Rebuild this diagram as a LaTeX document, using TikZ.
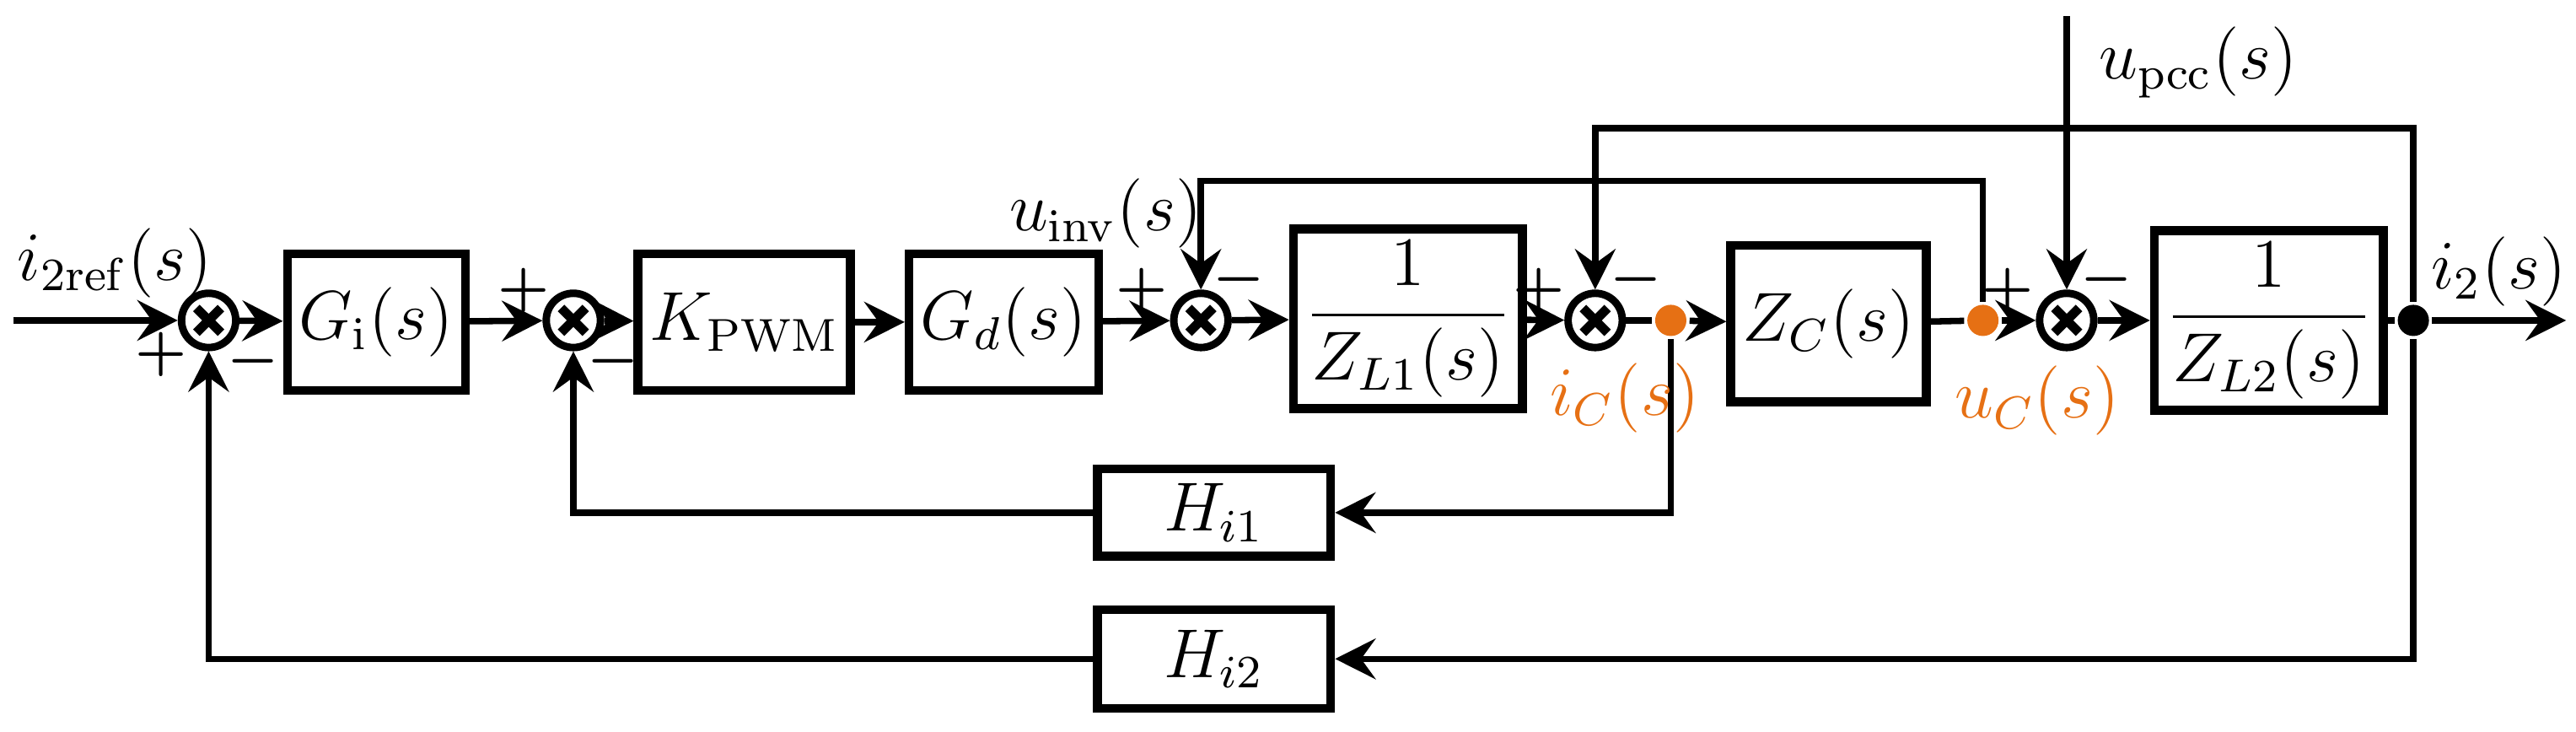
\documentclass[tikz,border=0pt]{standalone}
\usepackage{amsmath}
\usepackage{tikz}
\usetikzlibrary{arrows.meta}
\definecolor{sigorange}{RGB}{230,112,20}
\begin{document}
\begin{tikzpicture}[
x = 0.01cm, y = -0.01cm,
> = {Stealth[length=7pt,width=7pt,inset=2.5pt]}, % arrow head style
line width = 1.1pt,
font = \fontsize{12}{14}\selectfont
]

\tikzset{
block/.style = {draw, line width=1.5pt, minimum height=0.83cm, inner sep=2pt},
sum/.style = {draw, circle, line width=1.3pt, minimum size=0.33cm, inner sep=0pt,
  path picture={\draw[line width=1.6pt] (path picture bounding box.center) +(-0.075cm,-0.075cm) -- +(0.075cm,0.075cm)
    (path picture bounding box.center) +(-0.075cm,0.075cm) -- +(0.075cm,-0.075cm);}},
dot/.style = {circle, fill, inner sep=0pt, minimum size=0.19cm},
sign/.style = {font=\fontsize{10}{11}\selectfont, inner sep=0pt}
}

\useasboundingbox (0,0) rectangle (1568,445);

% forward path
\coordinate (in) at (8,195);
\node[sum] (s1) at (127,195) {};
\node[block, minimum width=0.98cm] (gi) at (229,196) {$G_{\mathrm{i}}(s)$};
\node[sum] (s2) at (349,195) {};
\node[block, minimum width=1.07cm] (kpwm) at (453,196) {$K_{\mathrm{PWM}}$};
\node[block, minimum width=1.0cm] (gd) at (611,196) {$G_d(s)$};
\node[sum] (s3) at (731,195) {};
\node[block, minimum width=1.38cm, minimum height=0.92cm] (zl1) at (857,194) {$\dfrac{1}{Z_{L1}(s)}$};
\node[sum] (s4) at (971,195) {};
\node[dot, fill=sigorange] (ic) at (1017,195) {};
\node[block, minimum width=1.18cm, minimum height=0.95cm] (zc) at (1113,197) {$Z_C(s)$};
\node[dot, fill=sigorange] (uc) at (1207,195) {};
\node[sum] (s5) at (1258,195) {};
\node[block, minimum width=1.31cm, minimum height=1.0cm] (zl2) at (1381,195) {$\dfrac{1}{Z_{L2}(s)}$};
\node[dot] (j) at (1469,195) {};
\coordinate (out) at (1562,195);
\coordinate (pcc) at (1258,10);

% feedback blocks
\node[block, minimum width=1.42cm, minimum height=0.53cm] (hi1) at (739,312) {$H_{i1}$};
\node[block, minimum width=1.42cm, minimum height=0.6cm] (hi2) at (739,401) {$H_{i2}$};

% connections
\draw[->] (in) -- (s1);
\draw[->] (s1) -- (gi);
\draw[->] (gi) -- (s2);
\draw[->] (s2) -- (kpwm);
\draw[->] (kpwm) -- (gd);
\draw[->] (gd) -- (s3);
\draw[->] (s3) -- (zl1);
\draw[->] (zl1) -- (s4);
\draw (s4) -- (ic);
\draw[->] (ic) -- (zc);
\draw (zc) -- (uc);
\draw[->] (uc) -- (s5);
\draw[->] (s5) -- (zl2);
\draw (zl2) -- (j);
\draw[->] (j) -- (out);

\draw[->] (ic) |- (hi1);
\draw[->] (hi1) -| (s2);
\draw[->] (j) |- (hi2);
\draw[->] (hi2) -| (s1);
\draw[->] (uc) |- (731,110) -- (s3);
\draw[->] (j) |- (971,78) -- (s4);
\draw[->] (pcc) -- (s5);

% labels
\node at (70,160) {$i_{2\mathrm{ref}}(s)$};
\node at (673,130) {$u_{\mathrm{inv}}(s)$};
\node[anchor=west] at (1264,38) {$u_{\mathrm{pcc}}(s)$};
\node at (1521,165) {$i_2(s)$};
\node[text=sigorange] at (989,242) {$i_C(s)$};
\node[text=sigorange] at (1240,244) {$u_C(s)$};

% signs
\node[sign] at (98,216) {$\boldsymbol{+}$};
\node[sign] at (154,220) {$\boldsymbol{-}$};
\node[sign] at (319,177) {$\boldsymbol{+}$};
\node[sign] at (373,220) {$\boldsymbol{-}$};
\node[sign] at (695,177) {$\boldsymbol{+}$};
\node[sign] at (754,170) {$\boldsymbol{-}$};
\node[sign] at (937,177) {$\boldsymbol{+}$};
\node[sign] at (996,170) {$\boldsymbol{-}$};
\node[sign] at (1222,177) {$\boldsymbol{+}$};
\node[sign] at (1282,170) {$\boldsymbol{-}$};

\end{tikzpicture}
\end{document}
